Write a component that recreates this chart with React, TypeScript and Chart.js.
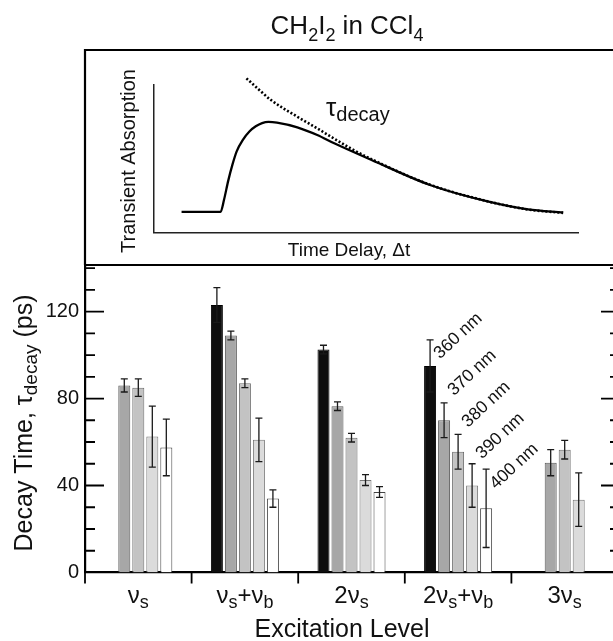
import React, { useEffect, useRef } from 'react';
import { Chart, registerables } from 'chart.js';

Chart.register(...registerables);

const FONT = '"Liberation Sans", Arial, Helvetica, sans-serif';
const INK = '#111111';

// ---- Decay times (ps) per excitation level, one array per probe wavelength ----
// "_x" or "_{...}" marks subscript text.
const levels = ['ν_s', 'ν_s+ν_b', '2ν_s', '2ν_s+ν_b', '3ν_s'];
const probeLabels = ['360 nm', '370 nm', '380 nm', '390 nm', '400 nm'];

const tau360 = [null, 123, 102.5, 95, null];
const tau370 = [86, 109, 76.5, 70, 50.5];
const tau380 = [85, 87, 62, 55.5, 56.5];
const tau390 = [62.5, 61, 42.5, 40, 33.5];
const tau400 = [57.5, 34, 37, 29.5, null];

const err360 = [null, 8, 2, 12, null];
const err370 = [3, 2, 2, 8, 6];
const err380 = [4, 2, 2, 8, 4.3];
const err390 = [14, 10, 2.5, 10, 12.3];
const err400 = [13, 4, 2.5, 18, null];

const yTicksMajor = [0, 40, 80, 120];
const yMinorStep = 10;
const yMax = 141.4;

// ---- Schematic transient (inset): signal and exponential fit ----
const signalTime = [0.65, 1.57, 1.65, 1.75, 1.85, 1.95, 2.1, 2.25, 2.4, 2.55, 2.7, 2.9, 3.38, 3.85, 4.25, 5.13, 6.51, 7.89, 8.82, 9.65];
const signalAbs = [0.14, 0.14, 0.22, 0.35, 0.46, 0.55, 0.63, 0.685, 0.72, 0.742, 0.75, 0.745, 0.713, 0.661, 0.605, 0.492, 0.322, 0.209, 0.157, 0.136];
const fitTime = [2.18, 2.47, 2.75, 3.38, 3.85, 4.17, 4.62, 5.13, 6.51, 7.89, 8.82, 9.65];
const fitAbs = [1.045, 0.97, 0.9, 0.785, 0.706, 0.65, 0.573, 0.497, 0.324, 0.21, 0.156, 0.133];

// ---- Styles and layout ----
const series = [tau360, tau370, tau380, tau390, tau400];
const errors = [err360, err370, err380, err390, err400];
const fills = ['#0e0e0e', '#a7a7a7', '#c3c3c3', '#dbdbdb', '#ffffff'];
const edges = ['#000000', '#5a5a5a', '#6a6a6a', '#777777', '#444444'];
const labelledLevel = 3; // probe wavelengths are annotated on this group
const probeLabelAt = [98, 81, 66.5, 52, 38]; // anchor height of each rotated label (axis units)
const probeLabelDx = 10;
const FRAME_TOP = 50;
const MAIN_TOP = 265;
const MAIN_BOTTOM = 572.5;
const CANVAS_W = 640;
const CANVAS_H = 641;

type Run = { text: string; sub: boolean };

function parseRich(s: string): Run[] {
  const runs: Run[] = [];
  const push = (text: string, sub: boolean) => {
    const last = runs[runs.length - 1];
    if (last && last.sub === sub) last.text += text;
    else runs.push({ text, sub });
  };
  for (let i = 0; i < s.length; i++) {
    if (s[i] === '_') {
      if (s[i + 1] === '{') {
        const end = s.indexOf('}', i + 2);
        push(s.slice(i + 2, end), true);
        i = end;
      } else {
        push(s[i + 1], true);
        i += 1;
      }
    } else {
      push(s[i], false);
    }
  }
  return runs;
}

function drawRich(
  ctx: CanvasRenderingContext2D,
  s: string,
  x: number,
  y: number,
  size: number,
  subSize: number,
  drop: number,
  align: 'left' | 'center' | 'right' = 'left'
) {
  const runs = parseRich(s);
  const fontOf = (r: Run) => `${r.sub ? subSize : size}px ${FONT}`;
  let total = 0;
  runs.forEach((r) => {
    ctx.font = fontOf(r);
    total += ctx.measureText(r.text).width;
  });
  let cx = align === 'center' ? x - total / 2 : align === 'right' ? x - total : x;
  ctx.textAlign = 'left';
  ctx.textBaseline = 'alphabetic';
  runs.forEach((r) => {
    ctx.font = fontOf(r);
    ctx.fillText(r.text, cx, y + (r.sub ? drop : 0));
    cx += ctx.measureText(r.text).width;
  });
}

const errorBars = {
  id: 'errorBars',
  afterDatasetsDraw(chart: any) {
    const { ctx } = chart;
    const y = chart.scales.y;
    ctx.save();
    ctx.strokeStyle = '#1a1a1a';
    ctx.lineWidth = 1.3;
    series.forEach((vals, k) => {
      const meta = chart.getDatasetMeta(k);
      vals.forEach((v, j) => {
        const e = errors[k][j];
        if (v == null || e == null) return;
        const bx = meta.data[j].x;
        const yt = y.getPixelForValue(v + e);
        const yb = y.getPixelForValue(v - e);
        ctx.beginPath();
        ctx.moveTo(bx, yt);
        ctx.lineTo(bx, yb);
        ctx.moveTo(bx - 3.5, yt);
        ctx.lineTo(bx + 3.5, yt);
        ctx.moveTo(bx - 3.5, yb);
        ctx.lineTo(bx + 3.5, yb);
        ctx.stroke();
      });
    });
    ctx.restore();
  },
};

const decorations = {
  id: 'decorations',
  afterDraw(chart: any) {
    const { ctx, chartArea } = chart;
    const { left, right, top, bottom } = chartArea;
    const x = chart.scales.x;
    const y = chart.scales.y;
    ctx.save();

    // frame around the inset and the bar panel
    ctx.strokeStyle = '#000';
    ctx.lineWidth = 2.2;
    ctx.beginPath();
    ctx.moveTo(left, FRAME_TOP);
    ctx.lineTo(chart.width, FRAME_TOP);
    ctx.moveTo(left, FRAME_TOP - 1);
    ctx.lineTo(left, top);
    ctx.moveTo(left - 1, top);
    ctx.lineTo(chart.width, top);
    ctx.stroke();

    // inward ticks on both vertical axes
    ctx.lineWidth = 1.8;
    ctx.beginPath();
    for (let v = yMinorStep; v < yMax; v += yMinorStep) {
      const py = y.getPixelForValue(v);
      const major = yTicksMajor.includes(v);
      ctx.moveTo(left, py);
      ctx.lineTo(left + (major ? 19 : 10), py);
      ctx.moveTo(right, py);
      ctx.lineTo(right - (major ? 17 : 8), py);
    }
    // outward ticks at category boundaries
    for (let i = 0; i <= levels.length; i++) {
      const px = x.getPixelForValue(i - 0.5);
      ctx.moveTo(px, bottom);
      ctx.lineTo(px, bottom + 11);
    }
    ctx.stroke();

    ctx.fillStyle = INK;
    // category labels
    levels.forEach((lab, i) => {
      drawRich(ctx, lab, x.getPixelForValue(i), 603, 24, 18, 5, 'center');
    });
    // axis titles
    drawRich(ctx, 'Excitation Level', 342, 637, 25, 25, 0, 'center');
    ctx.save();
    ctx.translate(32, 423);
    ctx.rotate(-Math.PI / 2);
    drawRich(ctx, 'Decay Time, τ_{decay} (ps)', 0, 0, 25, 19, 5, 'center');
    ctx.restore();

    // chart title
    drawRich(ctx, 'CH_2I_2 in CCl_4', 347, 34, 26, 18, 7, 'center');

    // probe wavelength annotations
    probeLabels.forEach((lab, k) => {
      const meta = chart.getDatasetMeta(k);
      const bar = meta.data[labelledLevel];
      if (!bar) return;
      ctx.save();
      ctx.translate(bar.x + probeLabelDx, y.getPixelForValue(probeLabelAt[k]));
      ctx.rotate(-0.75);
      drawRich(ctx, lab, 0, 0, 17.5, 17.5, 0, 'left');
      ctx.restore();
    });

    ctx.restore();
  },
};

const insetText = {
  id: 'insetText',
  afterDraw(chart: any) {
    const { ctx } = chart;
    ctx.save();
    ctx.fillStyle = INK;
    ctx.save();
    ctx.translate(35, 106);
    ctx.rotate(-Math.PI / 2);
    drawRich(ctx, 'Transient Absorption', 0, 0, 20, 20, 0, 'center');
    ctx.restore();
    drawRich(ctx, 'Time Delay, Δt', 249, 201, 19, 19, 0, 'center');
    drawRich(ctx, 'τ_{decay}', 226, 61, 26, 20, 5, 'left');
    ctx.restore();
  },
};

export default function App() {
  const mainRef = useRef<HTMLCanvasElement>(null);
  const insetRef = useRef<HTMLCanvasElement>(null);

  useEffect(() => {
    const main = new Chart(mainRef.current as HTMLCanvasElement, {
      type: 'bar',
      data: {
        labels: levels,
        datasets: probeLabels.map((lab, k) => ({
          label: lab,
          data: series[k] as any,
          backgroundColor: fills[k],
          borderColor: edges[k],
          borderWidth: 1,
          categoryPercentage: 0.657,
          barPercentage: 0.857,
        })),
      },
      options: {
        animation: false,
        responsive: false,
        maintainAspectRatio: false,
        layout: { padding: { top: MAIN_TOP, left: 0, right: 0, bottom: 0 } },
        plugins: { legend: { display: false }, tooltip: { enabled: false } },
        scales: {
          x: {
            type: 'category',
            offset: true,
            grid: { display: false, drawTicks: false },
            ticks: { display: false },
            border: { display: true, color: '#000', width: 2.2 },
            afterFit: (s: any) => {
              s.height = CANVAS_H - MAIN_BOTTOM;
            },
          },
          y: {
            position: 'left',
            min: 0,
            max: yMax,
            grid: { display: false, drawTicks: false },
            border: { display: true, color: '#000', width: 2.2 },
            ticks: {
              stepSize: yMinorStep,
              autoSkip: false,
              padding: 6,
              color: INK,
              font: { family: FONT, size: 20 },
              callback: (v: any) => (yTicksMajor.includes(Number(v)) ? String(v) : ''),
            },
            afterFit: (s: any) => {
              s.width = 85;
            },
          },
          y2: {
            position: 'right',
            min: 0,
            max: yMax,
            grid: { display: false, drawTicks: false },
            ticks: { display: false },
            border: { display: true, color: '#000', width: 2.2 },
            afterFit: (s: any) => {
              s.width = CANVAS_W - 618;
            },
          },
        },
      } as any,
      plugins: [errorBars, decorations],
    });

    const inset = new Chart(insetRef.current as HTMLCanvasElement, {
      type: 'line',
      data: {
        datasets: [
          {
            label: 'signal',
            data: signalTime.map((t, i) => ({ x: t, y: signalAbs[i] })),
            borderColor: '#000',
            borderWidth: 2.3,
            pointRadius: 0,
            cubicInterpolationMode: 'monotone',
            fill: false,
          },
          {
            label: 'fit',
            data: fitTime.map((t, i) => ({ x: t, y: fitAbs[i] })),
            borderColor: '#000',
            borderWidth: 2.6,
            borderDash: [2, 2],
            pointRadius: 0,
            cubicInterpolationMode: 'monotone',
            fill: false,
            clip: false,
          },
        ],
      },
      options: {
        animation: false,
        responsive: false,
        maintainAspectRatio: false,
        layout: { padding: { top: 30, right: 35, left: 0, bottom: 0 } },
        plugins: { legend: { display: false }, tooltip: { enabled: false } },
        scales: {
          x: {
            type: 'linear',
            min: 0,
            max: 10,
            grid: { display: false, drawTicks: false },
            ticks: { display: false },
            border: { display: true, color: '#222', width: 1.5 },
            afterFit: (s: any) => {
              s.height = 27.5;
            },
          },
          y: {
            type: 'linear',
            min: 0,
            max: 1,
            grid: { display: false, drawTicks: false },
            ticks: { display: false },
            border: { display: true, color: '#222', width: 1.5 },
            afterFit: (s: any) => {
              s.width = 54;
            },
          },
        },
      } as any,
      plugins: [insetText],
    });

    return () => {
      main.destroy();
      inset.destroy();
    };
  }, []);

  return (
    <div
      style={{
        position: 'fixed',
        left: 0,
        top: 0,
        width: 613,
        height: 641,
        overflow: 'hidden',
        background: '#ffffff',
      }}
    >
      <canvas
        ref={mainRef}
        width={CANVAS_W}
        height={CANVAS_H}
        style={{ position: 'absolute', left: 0, top: 0, width: CANVAS_W, height: CANVAS_H }}
      />
      <canvas
        ref={insetRef}
        width={513}
        height={205}
        style={{ position: 'absolute', left: 100, top: 55, width: 513, height: 205 }}
      />
    </div>
  );
}
